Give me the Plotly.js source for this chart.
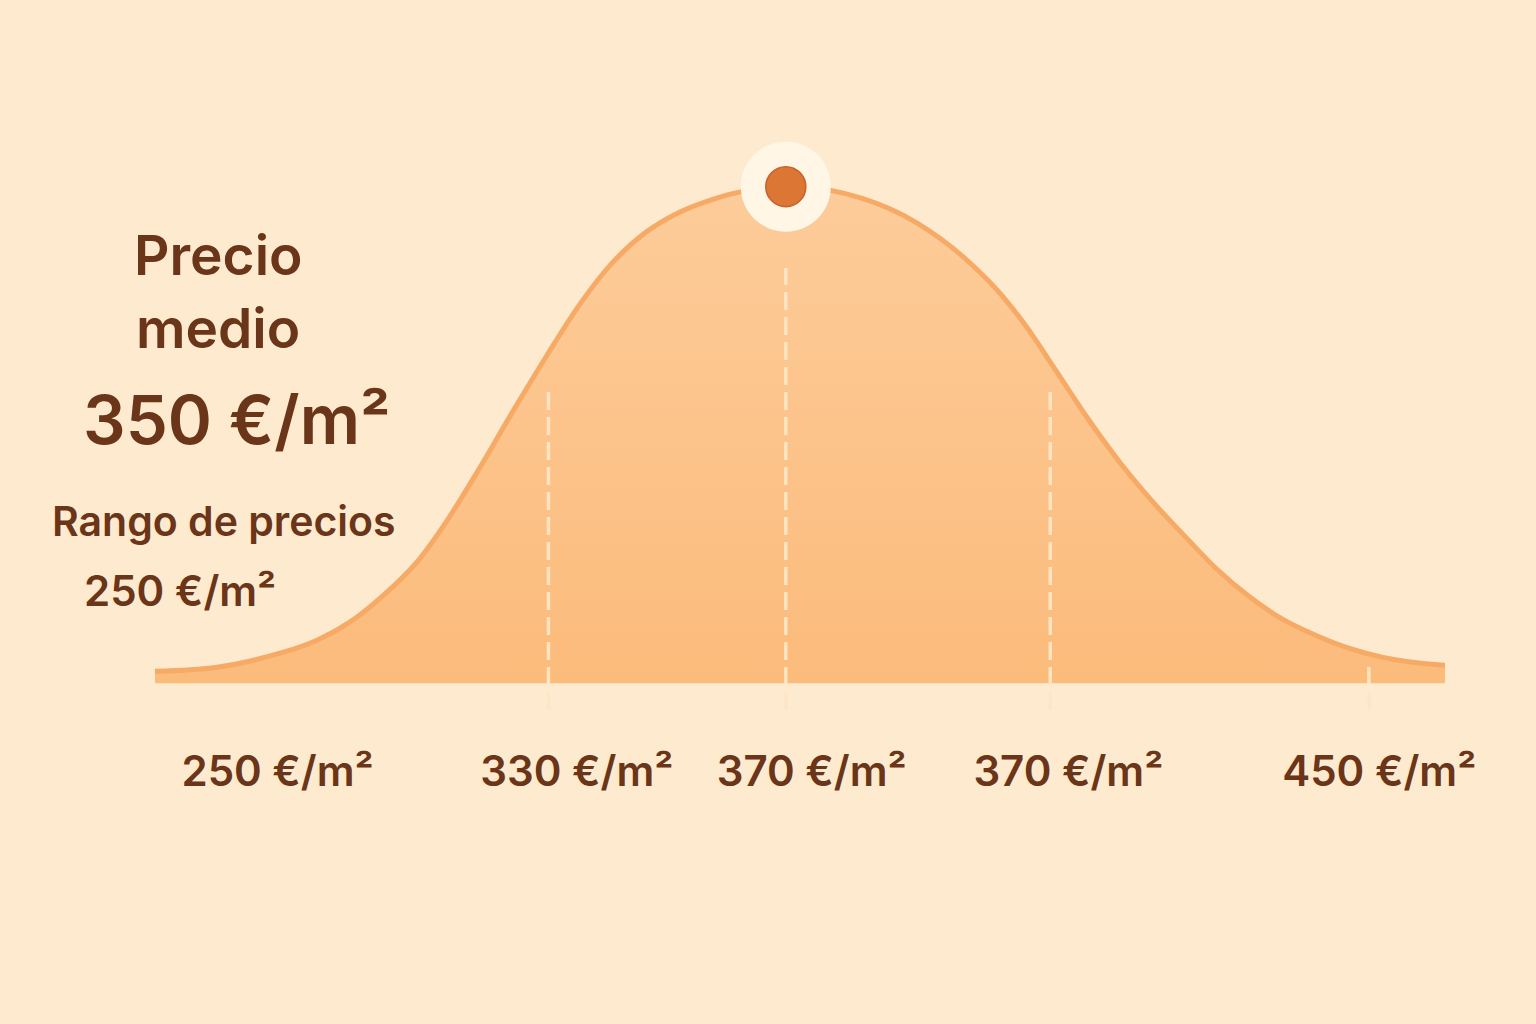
<!DOCTYPE html>
<html>
<head>
<meta charset="utf-8">
<script src="https://cdn.plot.ly/plotly-3.0.1.min.js"></script>
<style>
  html, body { margin: 0; padding: 0; background: #FEEBCF; }
  #chart { width: 1536px; height: 1024px; }
</style>
</head>
<body>
<div id="chart"></div>
<script>
// Curve (position along the price axis, relative density)
const posicion = [0, 4.8, 9.9, 12.6, 15.1, 17.7, 20.3, 22.6, 25.2, 27.8, 30.4, 32.9, 35.5, 38.1, 40.7, 43.3, 45.3, 48.9, 52.3, 57.0, 60.9, 64.7, 67.3, 69.9, 72.5, 75.0, 77.7, 80.2, 82.3, 84.9, 87.4, 90.1, 92.6, 95.2, 97.5, 100];
const densidad = [2.4, 3.2, 6.2, 8.7, 12.3, 17.7, 24.4, 32.6, 43.5, 55.0, 66.1, 76.2, 84.8, 90.9, 94.9, 97.5, 98.9, 100, 99.3, 95.5, 89.5, 80.8, 72.7, 62.7, 52.6, 43.8, 35.5, 28.6, 23.0, 17.3, 12.9, 9.5, 7.0, 5.2, 4.2, 3.6];

// Reference lines (dashed)
const lineasX = [30.5, 48.9, 69.4, 94.1];
const lineasTop = [59.4, 83.6, 59.4, 4.6];
const lineasBase = -5.4;

// Peak marker
const picoX = [48.9];
const picoY = [100];

// Tick labels
const ticksPos = [9.5, 32.7, 50.9, 70.8, 94.9];
const ticksTexto = ['250 €/m²', '330 €/m²', '370 €/m²', '370 €/m²', '450 €/m²'];

// Side texts
const tituloLineas = ['Precio', 'medio'];
const precioMedio = '350 €/m²';
const rangoTitulo = 'Rango de precios';
const rangoValor = '250 €/m²';

const marron = '#6A3518';
const fuente = 'Inter, "Noto Sans", sans-serif';

const M_T = 137.4, M_B = 311.2;

const traces = [];
traces.push({
  x: posicion, y: densidad, type: 'scatter', mode: 'lines',
  line: { color: '#F6AA66', width: 5, shape: 'spline', smoothing: 1 },
  fill: 'tozeroy',
  fillcolor: '#FCC48C',
  fillgradient: { type: 'vertical', colorscale: [[0, '#FBBB7B'], [1, '#FDCC9A']] },
  hoverinfo: 'skip', showlegend: false
});
lineasX.forEach((lx, i) => {
  traces.push({
    x: [lx, lx], y: [lineasBase, lineasTop[i]], type: 'scatter', mode: 'lines',
    line: { color: 'rgba(254,230,196,0.95)', width: 3.5, dash: '18px,7px' },
    hoverinfo: 'skip', showlegend: false
  });
});
traces.push({
  x: picoX, y: picoY, type: 'scatter', mode: 'markers',
  marker: { size: 90, color: '#FFF6E6', line: { width: 0 } },
  hoverinfo: 'skip', showlegend: false
});
traces.push({
  x: picoX, y: picoY, type: 'scatter', mode: 'markers',
  marker: { size: 40, color: '#DC7635', line: { width: 1.5, color: '#C7622A' } },
  hoverinfo: 'skip', showlegend: false
});

const ann = [
  { text: tituloLineas[0], x: 218, y: 255, size: 55 },
  { text: tituloLineas[1], x: 218, y: 328, size: 55 },
  { text: precioMedio, x: 236, y: 420, size: 67 },
  { text: rangoTitulo, x: 224, y: 521, size: 41 },
  { text: rangoValor, x: 180, y: 590, size: 42 }
].map(a => ({
  text: a.text, xref: 'paper', yref: 'paper',
  x: (a.x - 155) / 1290, y: (1024 - M_B - a.y) / (1024 - M_B - M_T),
  xanchor: 'center', yanchor: 'middle', showarrow: false,
  font: { family: fuente, size: a.size, color: marron, weight: 600 }
}));

const layout = {
  width: 1536, height: 1024,
  paper_bgcolor: '#FEEBCF', plot_bgcolor: 'rgba(0,0,0,0)',
  margin: { l: 155, r: 91, t: M_T, b: M_B },
  showlegend: false,
  xaxis: {
    range: [0, 100], showgrid: false, zeroline: false, showline: false,
    tickvals: ticksPos, ticktext: ticksTexto, ticks: '',
    ticklabelstandoff: 30,
    tickfont: { family: fuente, size: 42, color: marron, weight: 600 },
    fixedrange: true
  },
  yaxis: {
    range: [-6, 110], showgrid: false, zeroline: false, showline: false,
    showticklabels: false, ticks: '', fixedrange: true
  },
  annotations: ann
};

Plotly.newPlot('chart', traces, layout, { staticPlot: true, displayModeBar: false });
</script>
</body>
</html>
